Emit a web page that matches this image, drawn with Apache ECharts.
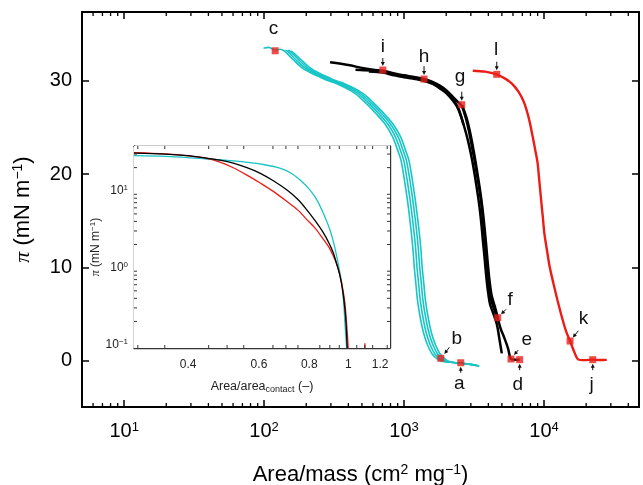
<!DOCTYPE html>
<html><head><meta charset="utf-8">
<script src="https://cdn.jsdelivr.net/npm/echarts@6/dist/echarts.min.js"></script>
<style>html,body{margin:0;padding:0;background:#fff}#c{width:643px;height:485px}</style>
</head><body><div id="c"></div>
<script>
// ---------- main chart data (Area/mass, pi) ----------
const cyan1 = [[99,33.5],[108,33.6],[120,33.3],[130,33.4],[140,33.2],[161,32.3],[187,31.4],[220,30.8],[252,30.4],[277,30.1],[318,29.8],[365,29.4],[421,28.9],[479,28.3],[552,27.4],[630,26.5],[729,25.4],[829,24.0],[898,22.6],[950,21.5],[1000,19.6],[1057,17.2],[1094,15.4],[1129,13.6],[1159,11.8],[1183,10.0],[1215,8.2],[1249,6.4],[1309,4.5],[1383,2.86],[1477,1.6],[1583,0.72],[1711,0.2],[1870,-0.1],[2150,-0.2],[2525,-0.3],[2900,-0.4],[3300,-0.55]];
const cyan2 = [[142,33.3],[147,33.2],[168,32.3],[196,31.4],[230,30.8],[264,30.4],[289,30.1],[333,29.8],[381,29.4],[440,28.9],[501,28.3],[577,27.4],[659,26.5],[763,25.4],[867,24.0],[939,22.6],[994,21.5],[1046,19.6],[1105,17.2],[1144,15.4],[1181,13.6],[1213,11.8],[1237,10.0],[1271,8.2],[1307,6.4],[1369,4.5],[1446,2.86],[1545,1.6],[1656,0.72],[1790,0.2],[1956,-0.12],[2250,-0.22],[2640,-0.32],[3030,-0.45],[3380,-0.58]];
const cyan3 = [[148,33.3],[153,33.2],[176,32.3],[204,31.4],[240,30.8],[276,30.4],[303,30.1],[347,29.8],[399,29.4],[460,28.9],[523,28.3],[603,27.4],[689,26.5],[797,25.4],[907,24.0],[981,22.6],[1038,21.5],[1094,19.6],[1155,17.2],[1196,15.4],[1235,13.6],[1267,11.8],[1293,10.0],[1329,8.2],[1365,6.4],[1431,4.5],[1512,2.86],[1615,1.6],[1730,0.72],[1870,0.2],[2044,-0.14],[2350,-0.25],[2760,-0.35],[3170,-0.48],[3435,-0.6]];
const cyan4 = [[155,33.2],[160,33.1],[183,32.3],[213,31.4],[250,30.8],[288,30.4],[315,30.1],[362,29.8],[415,29.4],[479,28.9],[545,28.3],[628,27.4],[718,26.5],[831,25.4],[945,24.0],[1022,22.6],[1082,21.5],[1140,19.6],[1203,17.2],[1246,15.4],[1287,13.6],[1321,11.8],[1347,10.0],[1385,8.2],[1423,6.4],[1491,4.5],[1575,2.86],[1683,1.6],[1803,0.72],[1950,0.2],[2130,-0.15],[2400,-0.27],[2800,-0.38],[3200,-0.5],[3450,-0.62]];

const black1 = [[296,32.0],[400,31.7],[500,31.4],[600,31.2],[705,31.1],[850,30.8],[1000,30.6],[1200,30.4],[1389,30.2],[1600,29.9],[1800,29.5],[2000,29.0],[2200,28.4],[2400,27.8],[2584,27.3],[2750,26.1],[2900,24.7],[3050,23.0],[3205,21.3],[3380,19.2],[3548,17.1],[3650,15.3],[3743,13.5],[3840,11.7],[3925,9.9],[4050,8.0],[4180,6.6],[4400,5.5],[4668,4.5],[4900,3.4],[5180,2.5],[5530,1.3],[5808,0.15],[6200,0.08],[6700,0.06]];
const black2 = [[560,31.0],[705,30.9],[850,30.6],[1000,30.4],[1200,30.2],[1389,30.0],[1600,29.7],[1800,29.2],[2000,28.7],[2200,28.0],[2400,27.2],[2550,26.2],[2700,25.0],[2850,23.7],[3000,22.2],[3150,20.5],[3300,18.6],[3450,16.6],[3560,14.8],[3650,13.0],[3750,11.2],[3850,9.3],[3970,7.5],[4120,6.0],[4350,5.0],[4600,3.9],[4800,2.3],[4990,0.76]];
const black3 = [[450,31.2],[705,31.0],[1000,30.5],[1389,30.1],[1800,29.3],[2200,28.2],[2450,27.0],[2580,26.0],[2657,25.3]];
const black4 = [[2600,27.4],[2800,26.0],[2980,24.3],[3150,22.4],[3300,20.6],[3480,18.4],[3640,16.2],[3760,14.2],[3860,12.4],[3960,10.5],[4070,8.7],[4220,7.0],[4450,5.8],[4668,4.6]];

const red1 = [[3097,31.1],[3800,31.0],[4593,30.7],[5200,30.3],[5700,29.9],[6080,29.5],[6600,28.8],[7100,27.9],[7500,26.9],[7900,25.6],[8300,24.0],[8650,22.6],[8993,21.2],[9250,19.3],[9535,17.2],[9800,15.4],[10060,13.6],[10500,11.8],[10990,10.0],[11700,8.2],[12490,6.44],[13500,4.5],[14400,3.1],[15350,2.08],[16400,0.95],[17580,0.1],[19500,0.03],[22280,0.08],[25000,0.04],[28060,0.06]];

// labelled sample points
const markers = [[2541,-0.25,'a'],[1829,0.23,'b'],[120,33.24,'c'],[6698,0.08,'d'],[5808,0.15,'e'],[4668,4.58,'f'],[2584,27.45,'g'],[1389,30.2,'h'],[705,31.17,'i'],[22280,0.08,'j'],[15350,2.08,'k'],[4593,30.71,'l']];

// ---------- inset data (Area/area_contact, pi) ----------
const insetBlack = [[0.2935,30.8],[0.35,30.0],[0.4,28.6],[0.444,26.6],[0.48,25.0],[0.518,22.9],[0.56,20.0],[0.603,17.0],[0.65,13.6],[0.703,10.3],[0.75,7.7],[0.788,5.7],[0.83,4.0],[0.867,2.85],[0.895,2.1],[0.918,1.56],[0.937,1.1],[0.954,0.78],[0.97,0.48],[0.981,0.29],[0.988,0.18],[0.994,0.09]];
const insetRed = [[0.2935,31.3],[0.35,30.2],[0.4,28.5],[0.444,26.5],[0.48,23.5],[0.518,19.9],[0.56,16.0],[0.603,12.7],[0.65,9.9],[0.703,7.3],[0.75,5.6],[0.788,4.25],[0.83,3.2],[0.867,2.35],[0.895,1.85],[0.918,1.42],[0.937,1.1],[0.954,0.79],[0.97,0.52],[0.981,0.35],[0.99,0.2],[1.0,0.09]];
const insetRedBlip = [[1.1,0.09],[1.1,0.104]];
const insetCyan = [[0.2935,28.6],[0.35,28.0],[0.4,27.0],[0.444,25.9],[0.5,24.8],[0.57,23.2],[0.62,21.8],[0.676,19.7],[0.72,17.0],[0.758,13.9],[0.80,10.5],[0.835,7.66],[0.87,4.9],[0.9,3.13],[0.92,2.1],[0.936,1.41],[0.95,0.95],[0.963,0.64],[0.975,0.33],[0.981,0.194],[0.991,0.09]];

// ---------- ticks ----------
const mainXMajor = [10,100,1000,10000];
const mainXMinor = [6,7,8,9,20,30,40,50,60,70,80,90,200,300,400,500,600,700,800,900,2000,3000,4000,5000,6000,7000,8000,9000,20000,30000,40000];
const mainYTicks = [0,10,20,30];
const insetXMajor = [0.4,0.6,0.8,1,1.2];
const insetXMinor = [0.3,0.35,0.45,0.5,0.55,0.65,0.7,0.75,0.85,0.9,0.95,1.05,1.1,1.15,1.25];
const insetYMajor = [0.1,1,10];
const insetYMinor = [0.2,0.3,0.4,0.5,0.6,0.7,0.8,0.9,2,3,4,5,6,7,8,9,20,30];

// ---------- styling ----------
const FONT = '"Liberation Sans", Arial, Helvetica, sans-serif';
const CYAN = '#17c4c6', RED = '#ec1c17', BLACK = '#000';
const annot = {
  a:{t:[-1.4,21.4], arrow:[[0,10],[0,4]]},
  b:{t:[16,-19.8], arrow:[[8.6,-11],[3.6,-4.3]]},
  c:{t:[-1.7,-21.6]},
  d:{t:[-2,25.4], arrow:[[0,10.5],[0,4]]},
  e:{t:[15.7,-19.7], arrow:[[7.3,-9],[3,-4]]},
  f:{t:[12.3,-18.2], arrow:[[8.3,-8.4],[3.3,-3.4]]},
  g:{t:[-1.7,-28.1], arrow:[[0,-13],[0,-4]]},
  h:{t:[0,-22.3], arrow:[[0,-13],[0,-4]]},
  i:{t:[0,-23.3], arrow:[[0,-12],[0,-4]]},
  j:{t:[-1,24.7], arrow:[[0,10.5],[0,4]]},
  k:{t:[13.3,-22.6], arrow:[[8.3,-10.3],[2.7,-3.5]]},
  l:{t:[-0.7,-24.9], arrow:[[0,-12.6],[0,-4]]}
};

const supFmt = v => '{b|10}{s|' + String(Math.round(Math.log10(v))).replace('-', '\u2212') + '}';

const frameMain = {show: true, onZero: false, lineStyle: {color: '#000', width: 2}};
const frameIns = {show: true, onZero: false, lineStyle: {color: '#333', width: 1.4}};

function ax(type, base, o) {
  return Object.assign({
    type: type, splitLine: {show: false}, minorTick: {show: false},
    axisLabel: {show: false}
  }, type === 'log' ? {logBase: 10} : {}, base, o);
}
function ticks(values, len, color, width) {
  return {show: true, inside: true, length: len, lineStyle: {width: width, color: color}, customValues: values};
}

const mainX = {gridIndex: 0, min: 5, max: 47700, axisLine: frameMain};
const mainY = {gridIndex: 0, min: -5, max: 37.4, axisLine: frameMain};
const insX = {gridIndex: 1, min: 0.2935, max: 1.27, axisLine: frameIns};
const insY = {gridIndex: 1, min: 0.0903, max: 38.2, axisLine: frameIns};

const option = {
  animation: false,
  backgroundColor: '#fff',
  grid: [
    {left: 82, top: 12, width: 557, height: 395, show: false, outerBoundsMode: 'none', containLabel: false},
    {left: 134, top: 146, width: 256, height: 202, show: true, backgroundColor: '#fff', borderWidth: 0, z: 1, outerBoundsMode: 'none', containLabel: false}
  ],
  xAxis: [
    ax('log', mainX, {position: 'bottom', axisTick: ticks(mainXMajor, 7, '#000', 1.5),
      axisLabel: {show: true, customValues: mainXMajor, margin: 14, formatter: supFmt,
        rich: {b: {fontSize: 20, fontFamily: FONT, color: '#000'}, s: {fontSize: 13, fontFamily: FONT, color: '#000', padding: [0, 0, 8, 0]}}},
      name: '{t|Area/mass (cm}{s|2}{t| mg}{s|\u22121}{t|)}', nameLocation: 'middle', nameGap: 56,
      nameTextStyle: {rich: {t: {fontSize: 22, fontFamily: FONT, color: '#000'}, s: {fontSize: 14, fontFamily: FONT, color: '#000', padding: [0, 0, 10, 0]}}}
    }),
    ax('log', mainX, {position: 'top', axisTick: ticks(mainXMajor, 7, '#000', 1.5)}),
    ax('log', insX, {position: 'bottom', axisTick: ticks(insetXMajor, 5, '#333', 1),
      axisLabel: {show: true, customValues: insetXMajor, margin: 11, fontSize: 12, fontFamily: FONT, color: '#222',
        formatter: v => String(+(+v).toFixed(2))},
      name: '{t|Area/area}{u|contact}{t| (\u2013)}', nameLocation: 'middle', nameGap: 31,
      nameTextStyle: {rich: {t: {fontSize: 12.5, fontFamily: FONT, color: '#222'}, u: {fontSize: 9, fontFamily: FONT, color: '#222', padding: [6, 0, 0, 0]}}}
    }),
    ax('log', insX, {position: 'top', axisTick: ticks(insetXMajor, 5, '#333', 1)})
  ],
  yAxis: [
    ax('value', mainY, {position: 'left', axisTick: ticks(mainYTicks, 7, '#000', 1.5),
      axisLabel: {show: true, customValues: mainYTicks, margin: 10, fontSize: 20, fontFamily: FONT, color: '#000'},
      name: '{p|\u03c0}{t| (mN m}{s|\u22121}{t|)}', nameLocation: 'middle', nameRotate: 90, nameGap: 47,
      nameTextStyle: {rich: {p: {fontSize: 22, fontFamily: '"Liberation Serif", serif', fontStyle: 'italic', color: '#000'},
        t: {fontSize: 22, fontFamily: FONT, color: '#000'}, s: {fontSize: 14, fontFamily: FONT, color: '#000', padding: [0, 0, 10, 0]}}}
    }),
    ax('value', mainY, {position: 'right', axisTick: ticks(mainYTicks, 7, '#000', 1.5)}),
    ax('log', insY, {position: 'left', axisTick: ticks(insetYMajor, 5, '#333', 1),
      axisLabel: {show: true, customValues: insetYMajor, margin: 6, formatter: supFmt,
        rich: {b: {fontSize: 12, fontFamily: FONT, color: '#222'}, s: {fontSize: 8, fontFamily: FONT, color: '#222', padding: [0, 0, 6, 0]}}},
      name: '{p|\u03c0}{t| (mN m}{s|\u22121}{t|)}', nameLocation: 'middle', nameRotate: 90, nameGap: 30,
      nameTextStyle: {rich: {p: {fontSize: 12, fontFamily: '"Liberation Serif", serif', fontStyle: 'italic', color: '#222'},
        t: {fontSize: 12, fontFamily: FONT, color: '#222'}, s: {fontSize: 8, fontFamily: FONT, color: '#222', padding: [0, 0, 6, 0]}}}
    }),
    ax('log', insY, {position: 'right', axisTick: ticks(insetYMajor, 5, '#333', 1)})
  ],
  series: []
};

function line(data, color, width, xi, yi, z) {
  return {type: 'line', data: data, xAxisIndex: xi, yAxisIndex: yi, showSymbol: false, symbol: 'none',
    smooth: 0.3, lineStyle: {color: color, width: width}, z: z || 2, clip: true, silent: true};
}
[cyan1, cyan2, cyan3, cyan4].forEach(d => option.series.push(line(d, CYAN, 1.6, 0, 0)));
[black1, black2, black3, black4].forEach(d => option.series.push(line(d, BLACK, 2.5, 0, 0)));
option.series.push(line(red1, RED, 2.4, 0, 0));

option.series.push({type: 'scatter', xAxisIndex: 0, yAxisIndex: 0, data: markers.map(m => [m[0], m[1]]),
  symbol: 'rect', symbolSize: 7, itemStyle: {color: '#e8211a'}, z: 5, silent: true});

option.series.push({type: 'custom', xAxisIndex: 0, yAxisIndex: 0, data: markers, z: 6, silent: true, clip: false,
  renderItem: function (params, api) {
    const name = markers[params.dataIndex][2];
    const p = api.coord([api.value(0), api.value(1)]);
    const a = annot[name];
    const children = [{type: 'text', style: {text: name, x: p[0] + a.t[0], y: p[1] + a.t[1], align: 'center', verticalAlign: 'middle',
      font: '19px ' + FONT, fill: '#111'}}];
    if (a.arrow) {
      const t = [p[0] + a.arrow[0][0], p[1] + a.arrow[0][1]];
      const h = [p[0] + a.arrow[1][0], p[1] + a.arrow[1][1]];
      const dx = h[0] - t[0], dy = h[1] - t[1], L = Math.hypot(dx, dy);
      const ux = dx / L, uy = dy / L, nx = -uy, ny = ux;
      const hl = 4, hw = 2;
      children.push({type: 'line', shape: {x1: t[0], y1: t[1], x2: h[0] - ux * hl * 0.8, y2: h[1] - uy * hl * 0.8}, style: {stroke: '#111', lineWidth: 1}});
      children.push({type: 'polygon', shape: {points: [[h[0], h[1]], [h[0] - ux * hl + nx * hw, h[1] - uy * hl + ny * hw], [h[0] - ux * hl - nx * hw, h[1] - uy * hl - ny * hw]]},
        style: {fill: '#111'}});
    }
    return {type: 'group', children: children};
  }
});

// minor ticks drawn through the axes' own scales (both sides of each frame)
function minorTicks(values, dim, xi, yi, other, len, color, width) {
  return {type: 'custom', xAxisIndex: xi, yAxisIndex: yi, z: 12, silent: true, clip: false,
    data: values.map(v => dim === 'x' ? [v, other] : [other, v]),
    renderItem: function (params, api) {
      const cs = params.coordSys;
      const p = api.coord([api.value(0), api.value(1)]);
      const st = {stroke: color, lineWidth: width};
      if (dim === 'x') {
        const b = cs.y + cs.height, t = cs.y;
        return {type: 'group', children: [
          {type: 'line', shape: {x1: p[0], y1: b, x2: p[0], y2: b - len}, style: st},
          {type: 'line', shape: {x1: p[0], y1: t, x2: p[0], y2: t + len}, style: st}]};
      }
      const l = cs.x, r = cs.x + cs.width;
      return {type: 'group', children: [
        {type: 'line', shape: {x1: l, y1: p[1], x2: l + len, y2: p[1]}, style: st},
        {type: 'line', shape: {x1: r, y1: p[1], x2: r - len, y2: p[1]}, style: st}]};
    }};
}
option.series.push(minorTicks(mainXMinor, 'x', 0, 0, 0, 4, '#000', 1.3));
option.series.push(minorTicks(insetXMinor, 'x', 2, 2, 1, 3, '#333', 1));
option.series.push(minorTicks(insetYMinor, 'y', 2, 2, 1, 3, '#333', 1));

option.series.push(line(insetCyan, CYAN, 1.3, 2, 2, 10));
option.series.push(line(insetRed, RED, 1.3, 2, 2, 10));
option.series.push(line(insetBlack, BLACK, 1.3, 2, 2, 11));
option.series.push(line(insetRedBlip, RED, 1.3, 2, 2, 10));

const chart = echarts.init(document.getElementById('c'), null, {renderer: 'canvas'});
chart.setOption(option);
</script></body></html>
